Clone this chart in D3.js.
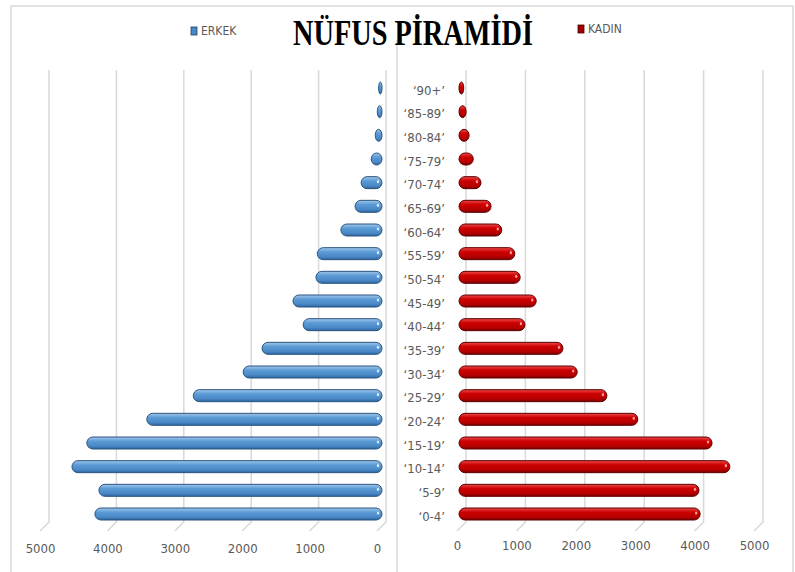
<!DOCTYPE html>
<html>
<head>
<meta charset="utf-8">
<script src="https://cdn.jsdelivr.net/npm/d3@7"></script>
<style>
  body { margin: 0; background: #fff; }
  svg { display: block; }
</style>
</head>
<body>
<svg width="795" height="572"></svg>
<script>
// age groups, top to bottom
const ageGroups = ['90+','85-89','80-84','75-79','70-74','65-69','60-64','55-59','50-54',
                   '45-49','40-44','35-39','30-34','25-29','20-24','15-19','10-14','5-9','0-4'];
const maleValues   = [50,70,100,160,310,400,610,960,980,1320,1170,1780,2060,2800,3490,4380,4600,4200,4260];
const femaleValues = [80,120,170,240,370,540,720,940,1030,1300,1110,1750,1990,2490,3010,4260,4560,4040,4060];
const tickValues = [0,1000,2000,3000,4000,5000];

const svg = d3.select('svg');
const font = '"Liberation Sans Narrow", "DejaVu Sans Condensed", sans-serif';
const textColor = '#595959';
const gridColor = '#d9d9d9';

// front plane scales (labels), back wall is shifted right/up
const xL = d3.scaleLinear().domain([0,5000]).range([377,40]);
const xR = d3.scaleLinear().domain([0,5000]).range([457,754]);
const y = d3.scalePoint().domain(ageGroups).range([88,514]);
const depth = 9;       // back wall offset
const gridTop = 70, gridBottom = 522;
const barH = 12;

// gradients for cylinder look
const defs = svg.append('defs');
const grad = (id, stops) => {
  const g = defs.append('linearGradient').attr('id',id)
    .attr('x1',0).attr('y1',0).attr('x2',0).attr('y2',1);
  stops.forEach(s => g.append('stop').attr('offset',s[0]).attr('stop-color',s[1]));
};
grad('blueG', [['0%','#a4c8ec'],['35%','#5b9bd5'],['75%','#4a88c6'],['100%','#2c65a0']]);
grad('redG',  [['0%','#f04a4a'],['35%','#cc0000'],['75%','#b80000'],['100%','#7a0000']]);

// frame
svg.append('path')
  .attr('d','M11,572 V6 H793 V572 M397,40 V572')
  .attr('fill','none').attr('stroke',gridColor).attr('stroke-width',1.5);

// gridlines (back wall + floor slant)
const drawGrid = (scale) => {
  svg.append('g').selectAll('path')
    .data(tickValues)
    .enter()
    .append('path')
    .attr('d', v => `M${scale(v)+depth},${gridTop} V${gridBottom} L${scale(v)},${gridBottom+depth}`)
    .attr('fill','none')
    .attr('stroke',gridColor)
    .attr('stroke-width',1.5);
};
drawGrid(xL);
drawGrid(xR);

// bars
const male = ageGroups.map((a,i) => ({age:a, value:maleValues[i]}));
const female = ageGroups.map((a,i) => ({age:a, value:femaleValues[i]}));

const gm = svg.append('g');
gm.selectAll('rect')
  .data(male)
  .enter()
  .append('rect')
  .attr('x', d => xL(d.value)+5)
  .attr('y', d => y(d.age)-barH/2)
  .attr('width', d => xL(0)-xL(d.value))
  .attr('height', barH)
  .attr('rx', d => Math.min(barH/2,(xL(0)-xL(d.value))/2))
  .attr('ry', barH/2)
  .attr('fill','url(#blueG)')
  .attr('stroke','#2a5580')
  .attr('stroke-width',1);
gm.selectAll('ellipse')
  .data(male.filter(d => d.value > 250))
  .enter()
  .append('ellipse')
  .attr('cx', xL(0)+1)
  .attr('cy', d => y(d.age)-1)
  .attr('rx',1.2).attr('ry',1.6)
  .attr('fill','#dcebf8');

const gf = svg.append('g');
gf.selectAll('rect')
  .data(female)
  .enter()
  .append('rect')
  .attr('x', xR(0)+2)
  .attr('y', d => y(d.age)-barH/2)
  .attr('width', d => xR(d.value)-xR(0))
  .attr('height', barH)
  .attr('rx', d => Math.min(barH/2,(xR(d.value)-xR(0))/2))
  .attr('ry', barH/2)
  .attr('fill','url(#redG)')
  .attr('stroke','#5c0000')
  .attr('stroke-width',1);
gf.selectAll('ellipse')
  .data(female.filter(d => d.value > 250))
  .enter()
  .append('ellipse')
  .attr('cx', d => xR(d.value)-2)
  .attr('cy', d => y(d.age)-1)
  .attr('rx',1.2).attr('ry',1.6)
  .attr('fill','#ff9a9a');

// category labels
const yAxis = d3.axisLeft(y).tickSize(0).tickPadding(0)
  .tickFormat(d => '\u2018' + d + '\u2019');
const ga = svg.append('g').attr('transform','translate(445,2)').call(yAxis);
ga.select('.domain').remove();
ga.selectAll('text')
  .attr('font-family',font).attr('font-size',13).attr('fill',textColor);

// x axes (tick labels only)
const addXAxis = (scale, yPos) => {
  const g = svg.append('g')
    .attr('transform',`translate(0,${yPos})`)
    .call(d3.axisBottom(scale).tickValues(tickValues).tickSize(0).tickPadding(0)
      .tickFormat(d3.format('d')));
  g.select('.domain').remove();
  g.selectAll('text')
    .attr('font-family',font).attr('font-size',13).attr('fill',textColor);
};
addXAxis(xL, 544);
addXAxis(xR, 541);

// title
svg.append('text')
  .text('NÜFUS PİRAMİDİ')
  .attr('x',293).attr('y',45)
  .attr('textLength',240)
  .attr('lengthAdjust','spacingAndGlyphs')
  .attr('font-family','"Liberation Serif", serif')
  .attr('font-weight','700')
  .attr('font-size',35)
  .attr('fill','#000');

// legend
const legend = [
  {label:'ERKEK', x:191, y:27, fill:'#4a88c6', stroke:'#1f3f60'},
  {label:'KADIN', x:578, y:25, fill:'#a00000', stroke:'#4a0000'}
];
const gl = svg.append('g');
gl.selectAll('rect')
  .data(legend)
  .enter()
  .append('rect')
  .attr('x', d => d.x).attr('y', d => d.y)
  .attr('width',6).attr('height',8)
  .attr('fill', d => d.fill).attr('stroke', d => d.stroke).attr('stroke-width',0.8);
gl.selectAll('text')
  .data(legend)
  .enter()
  .append('text')
  .text(d => d.label)
  .attr('x', d => d.x+10).attr('y', d => d.y+8)
  .attr('font-family',font).attr('font-size',12).attr('fill',textColor);
</script>
</body>
</html>
